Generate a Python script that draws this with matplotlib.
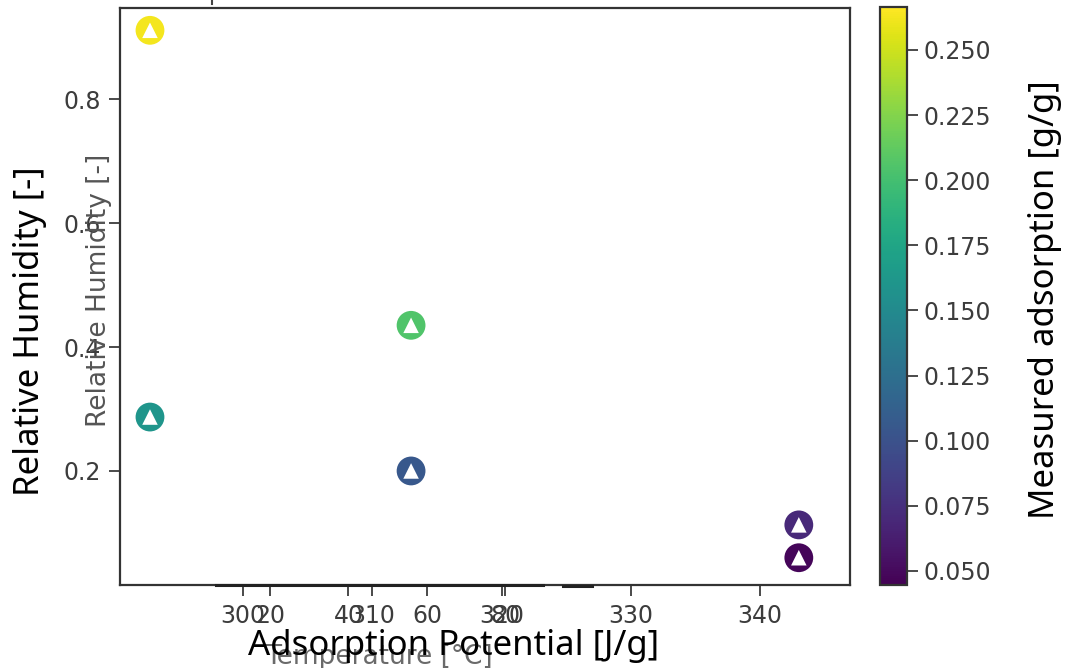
import matplotlib
matplotlib.use("Agg")
import matplotlib.pyplot as plt
import numpy as np
from matplotlib.colors import Normalize
from matplotlib.lines import Line2D

# ---- data ----
potential = [292.8, 292.8, 313.0, 313.0, 343.0, 343.0]      # J/g
humidity = [0.911, 0.287, 0.435, 0.200, 0.113, 0.060]       # [-]
adsorption = [0.263, 0.160, 0.205, 0.105, 0.070, 0.048]     # g/g
x_ticks = [300, 310, 320, 330, 340]
temp_ticks = [20, 40, 60, 80]
y_ticks = [0.2, 0.4, 0.6, 0.8]
cb_ticks = [0.050, 0.075, 0.100, 0.125, 0.150, 0.175, 0.200, 0.225, 0.250]

W, H = 1068, 668
fig = plt.figure(figsize=(W / 100, H / 100), dpi=100)

def fx(px):
    return px / W

def fy(py):
    return 1 - py / H

L, R, T, B = 120, 850, 8, 585
ax = fig.add_axes([fx(L), fy(B), fx(R - L), (B - T) / H])

tick_col = "#3c3c3c"
spine_col = "#333333"
norm = Normalize(vmin=0.0446, vmax=0.2665)
cmap = plt.get_cmap("viridis")

ax.scatter(potential, humidity, c=adsorption, cmap=cmap, norm=norm, s=430,
           marker="o", edgecolors="none", zorder=3)
ax.scatter(potential, humidity, c="white", s=125, marker="^",
           edgecolors="none", zorder=4)

ax.set_xlim(290.48, 346.96)
ax.set_ylim(0.016, 0.947)
ax.set_xticks(x_ticks)
ax.set_yticks(y_ticks)
ax.set_yticklabels([f"{v:.1f}" for v in y_ticks])
ax.tick_params(axis="both", labelsize=17, colors=tick_col, length=8,
               width=1.3, labelcolor=tick_col, pad=6)
for sp in ax.spines.values():
    sp.set_color(spine_col)
    sp.set_linewidth(1.6)

# ghost temperature axis
ax2 = ax.twiny()
ax2.set_xlim(-18.2, 167.8)
ax2.xaxis.set_ticks_position("bottom")
ax2.xaxis.set_label_position("bottom")
ax2.set_xticks(temp_ticks)
ax2.tick_params(axis="x", labelsize=17, colors=tick_col, length=8,
                width=1.3, labelcolor=tick_col, pad=6)
for name, sp in ax2.spines.items():
    sp.set_visible(name == "bottom")
ax2.spines["bottom"].set_bounds(6.2, 89.6)
ax2.spines["bottom"].set_color("#222222")
ax2.spines["bottom"].set_linewidth(2.2)

# small extra ghost spine fragment
fig.add_artist(Line2D([fx(563), fx(592)], [fy(586), fy(586)],
                      color="#222222", lw=2.2))
# small ghost tick at top
fig.add_artist(Line2D([fx(212), fx(212)], [fy(0), fy(4)],
                      color="#444444", lw=1.5))
fig.text(fx(636), fy(-3), "300", fontsize=17, color="#777777",
         ha="center", va="bottom", family="DejaVu Sans")

# colorbar
cax = fig.add_axes([fx(880), fy(585), fx(27), (585 - 7) / H])
sm = plt.cm.ScalarMappable(norm=norm, cmap=cmap)
cb = fig.colorbar(sm, cax=cax, ticks=cb_ticks)
cb.ax.set_yticklabels([f"{v:.3f}" for v in cb_ticks])
cb.ax.tick_params(labelsize=17, colors=tick_col, length=8, width=1.3,
                  labelcolor=tick_col, pad=4)
cb.outline.set_edgecolor(spine_col)
cb.outline.set_linewidth(1.6)

# ghost labels (small, gray, DejaVu)
fig.text(fx(99), fy(290), "Relative Humidity [-]", rotation=90, fontsize=19,
         color="#555555", ha="center", va="center", family="DejaVu Sans")
fig.text(fx(379), fy(657), "Temperature [°C]", fontsize=19,
         color="#6a6a6a", ha="center", va="center", family="DejaVu Sans")

# big labels
big = dict(fontsize=25, color="black", family="Noto Sans")
fig.text(fx(454), fy(646), "Adsorption Potential [J/g]", ha="center",
         va="center", **big)
fig.text(fx(30), fy(331), "Relative Humidity [-]", rotation=90, ha="center",
         va="center", **big)
fig.text(fx(1045), fy(300), "Measured adsorption [g/g]", rotation=90,
         ha="center", va="center", **big)

fig.savefig("out.png", dpi=100)
